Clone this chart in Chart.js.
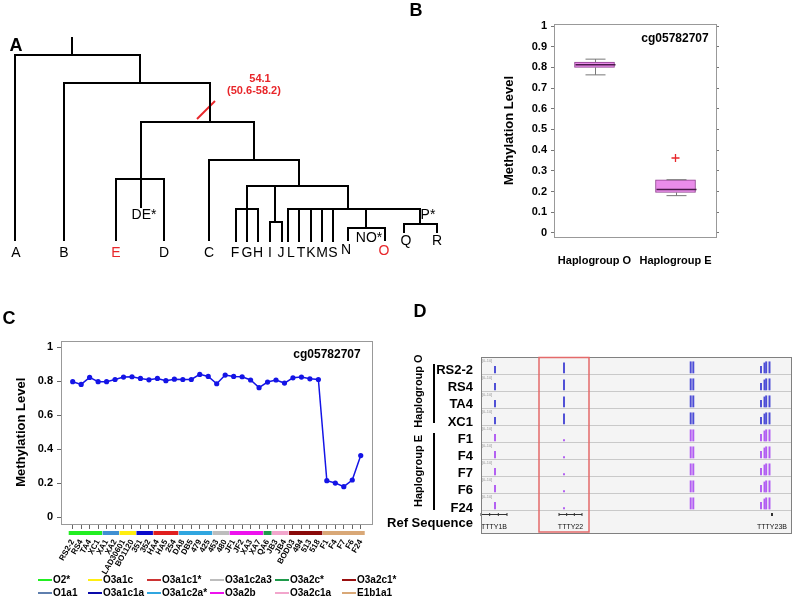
<!DOCTYPE html>
<html><head><meta charset="utf-8">
<script src="https://cdn.jsdelivr.net/npm/chart.js@4.4.1/dist/chart.umd.min.js"></script>
<style>
body{margin:0;width:796px;height:606px;background:#fff;position:relative;overflow:hidden;font-family:Arial,'Liberation Sans',sans-serif}
canvas{position:absolute}
.t{position:absolute;white-space:nowrap;line-height:1;color:#000}
.ln{position:absolute}
</style></head><body>
<canvas id="cA" width="450" height="270" style="left:0;top:0"></canvas>
<canvas id="cB" width="346" height="290" style="left:450px;top:0"></canvas>
<canvas id="cC" width="400" height="276" style="left:0;top:330px"></canvas>
<canvas id="cD" width="318" height="190" style="left:478px;top:350px"></canvas>
<script>
// ---------------- DATA ----------------
// Panel C: methylation of cg05782707 per sample
const sampleLabels = ['RS2-2','RS4','TA4','XC1','XA1','XA2','LAD30601','BO1120','351','352','HA4','HA5','254','DA8','DB5','479','425','453','480','JF1','JF2','XA3','XA7','QA6','JB3','JB4','BOD03','494','513','518','F1','F4','F7','F6','F24'];
const methylation = [0.798,0.782,0.823,0.798,0.798,0.811,0.825,0.827,0.817,0.809,0.817,0.804,0.813,0.811,0.811,0.841,0.829,0.786,0.837,0.829,0.827,0.808,0.763,0.796,0.808,0.790,0.821,0.825,0.815,0.811,0.215,0.201,0.180,0.219,0.363];
const cTicks = [0,0.2,0.4,0.6,0.8,1];
// haplogroup of sample ranges
const groupNames  = ['O2*','O1a1','O3a1c','O3a1c1a','O3a1c1*','O3a1c2a*','O3a1c2a3','O3a2b','O3a2c*','O3a2c1a','O3a2c1*','E1b1a1'];
const groupColors = ['#22ee22','#3f8fd2','#ffee11','#0a0acc','#e01f1f','#30a6e0','#bdbdbd','#ee11ee','#1e9a4a','#f2a6cc','#8a0a0a','#d9a877'];
const groupStart  = [0,4,6,8,10,13,17,19,23,24,26,30];
const groupEnd    = [3,5,7,9,12,16,18,22,23,25,29,34];
const legendRow1 = ['O2*','O3a1c','O3a1c1*','O3a1c2a3','O3a2c*','O3a2c1*'];
const legendRow2 = ['O1a1','O3a1c1a','O3a1c2a*','O3a2b','O3a2c1a','E1b1a1'];
const legendColor = {'O2*':'#22ee22','O1a1':'#5f7fae','O3a1c':'#ffee11','O3a1c1a':'#0a0aaa','O3a1c1*':'#cc3333','O3a1c2a*':'#30a6e0','O3a1c2a3':'#bdbdbd','O3a2b':'#ee11ee','O3a2c*':'#1e9a4a','O3a2c1a':'#f2a6cc','O3a2c1*':'#9a1010','E1b1a1':'#d9a877'};

// Panel B: box plot
const boxCats = ['Haplogroup O','Haplogroup E'];
const boxMin = [0.764,0.180];
const boxQ1  = [0.800,0.195];
const boxMed = [0.813,0.210];
const boxQ3  = [0.826,0.257];
const boxMax = [0.840,0.257];
const boxOutliers = [[],[0.362]];
const bTicks = [0,0.1,0.2,0.3,0.4,0.5,0.6,0.7,0.8,0.9,1];

// Panel D: genome browser tracks
const trackNames = ['RS2-2','RS4','TA4','XC1','F1','F4','F7','F6','F24'];
const trackGroup = ['O','O','O','O','E','E','E','E','E'];
const peakPos = [14,83,209.7,212.3,280,283.5,285.2,288.5];
const signalO = [6,9,10,10,6,9,10,10];
const signalE = [6,1.2,10,10,6,9,10,10];
const geneNames = ['TTTY1B','TTTY22','TTTY23B'];
const geneStart = [0,78,290.5];
const geneEnd   = [26,101,291.5];
const highlightRegion = [58,108];

// Panel A: tree
const treeEdges = [
 [72,38,72,55],[15,55,140,55],[15,55,15,240],[140,55,140,83],[64,83,210,83],[64,83,64,240],
 [210,83,210,122],[141,122,254,122],[141,122,141,207],[116,179,164,179],[116,179,116,240],[164,179,164,240],
 [254,122,254,160],[209,160,299,160],[209,160,209,240],[299,160,299,186],[247,186,348,186],
 [247,186,247,241],[236,209,258,209],[236,209,236,241],[258,209,258,241],
 [275,186,275,222],[270,222,282,222],[270,222,270,241],[282,222,282,241],
 [348,186,348,209],[288,209,420,209],[288,209,288,241],[299,209,299,241],[311,209,311,241],[322,209,322,241],[333,209,333,241],
 [366,209,366,228],[348,228,385,228],[348,228,348,240],[385,228,385,240],
 [420,209,420,224],[404,224,437,224],[404,224,404,232],[437,224,437,232]
];
const treeLabels = ['A','B','E','D','C','F','G','H','I','J','L','T','K','M','S','N','O','Q','R','DE*','NO*','P*'];
const treeLabelX = [16,64,116,164,209,235,247,258,270,281,291,301,311,322,333,346,384,406,437,144,369,428];
const treeLabelY = [253,253,253,253,253,253,253,253,253,253,253,253,253,253,253,250,251,241,241,215,238,215];
const treeRed = ['E','O'];
const ageLine = [[197,119],[215,101]];

// ---------------- HELPERS ----------------
Chart.defaults.font.family = "Arial, 'Liberation Sans', sans-serif";
Chart.defaults.color = '#000';
Chart.defaults.animation = false;
const FF = "Arial, 'Liberation Sans', sans-serif";
function txt(s,x,y,o={}){
  const d=document.createElement('div');d.className='t';d.textContent=s;
  d.style.left=x+'px';d.style.top=y+'px';d.style.fontSize=(o.size||12)+'px';
  d.style.fontWeight=o.weight||'bold';d.style.color=o.color||'#000';
  let tr=o.align==='right'?'translate(-100%,-50%)':o.align==='left'?'translate(0,-50%)':'translate(-50%,-50%)';
  if(o.rot) tr+=' rotate('+o.rot+'deg)';
  d.style.transform=tr;document.body.appendChild(d);
}
function box(x,y,w,h,c){const d=document.createElement('div');d.className='ln';d.style.left=x+'px';d.style.top=y+'px';d.style.width=w+'px';d.style.height=h+'px';d.style.background=c;document.body.appendChild(d);}
const framePlugin = {id:'frame',afterDraw(c,a,o){const ca=c.chartArea,x=c.ctx;x.save();x.strokeStyle=o.color||'#999';x.lineWidth=1;x.strokeRect(Math.round(ca.left)+0.5,Math.round(ca.top)+0.5,Math.round(ca.right-ca.left),Math.round(ca.bottom-ca.top));x.restore();}};

// ---------------- PANEL A ----------------
new Chart(document.getElementById('cA'),{
  type:'scatter',
  data:{datasets:[
    ...treeEdges.map(e=>({data:[{x:e[0],y:e[1]},{x:e[2],y:e[3]}],showLine:true,borderColor:'#000',borderWidth:2,pointRadius:0,borderCapStyle:'square'})),
    {data:ageLine.map(p=>({x:p[0],y:p[1]})),showLine:true,borderColor:'#e8262a',borderWidth:2,pointRadius:0}
  ]},
  options:{responsive:false,devicePixelRatio:1,layout:{padding:0},
    scales:{x:{type:'linear',min:0,max:450,display:false},y:{type:'linear',min:0,max:270,reverse:true,display:false}},
    plugins:{legend:{display:false},tooltip:{enabled:false}}},
  plugins:[{id:'treeText',afterDraw(c){const x=c.ctx,xs=c.scales.x,ys=c.scales.y;x.save();x.textAlign='center';x.textBaseline='middle';
    treeLabels.forEach((l,i)=>{x.font='14px '+FF;x.fillStyle=treeRed.includes(l)?'#e8262a':'#000';x.fillText(l,xs.getPixelForValue(treeLabelX[i]),ys.getPixelForValue(treeLabelY[i]));});
    x.restore();}}]
});
txt('A',16,45,{size:18});
txt('54.1',260,78,{size:11,color:'#e8262a'});
txt('(50.6-58.2)',254,90,{size:11,color:'#e8262a'});

// ---------------- PANEL B ----------------
new Chart(document.getElementById('cB'),{
  type:'bar',
  data:{datasets:[
    {type:'bar',data:boxCats.map((c,i)=>({x:2*i+1,y:[boxQ1[i],boxQ3[i]]})),backgroundColor:'#ea8cea',borderColor:'#8e3f8e',borderWidth:1,borderSkipped:false,barThickness:40,grouped:false},
    {type:'scatter',data:boxOutliers.flatMap((a,i)=>a.map(v=>({x:2*i+1,y:v}))),pointStyle:'cross',pointRadius:4,borderColor:'#e8262a',borderWidth:1.3}
  ]},
  options:{responsive:false,devicePixelRatio:1,layout:{padding:{left:48,top:24,right:74,bottom:0}},
    scales:{
      x:{type:'linear',min:0,max:4,offset:false,grid:{display:false},border:{display:false},
        afterBuildTicks(a){a.ticks=boxCats.map((c,i)=>({value:2*i+1}));},
        afterFit(s){s.height=53;},
        ticks:{padding:9,maxRotation:0,font:{size:11,weight:'bold'},callback:v=>boxCats[Math.round((v-1)/2)]}},
      y:{type:'linear',min:-0.02,max:1.01,
        afterBuildTicks(a){a.ticks=bTicks.map(v=>({value:v}));},
        afterFit(s){s.width=56;},
        grid:{drawOnChartArea:false,tickLength:3,color:'#777'},border:{display:false},
        title:{display:true,text:'Methylation Level',font:{size:13,weight:'bold'},padding:{top:4,bottom:0}},
        ticks:{padding:4,font:{size:11,weight:'bold'},callback:v=>v===0?'0':v===1?'1':v.toFixed(1)}},
      yr:{type:'linear',position:'right',min:-0.02,max:1.01,
        afterBuildTicks(a){a.ticks=bTicks.map(v=>({value:v}));},
        afterFit(s){s.width=6;},
        grid:{drawOnChartArea:false,tickLength:3,color:'#777'},border:{display:false},ticks:{display:false}}
    },
    plugins:{legend:{display:false},tooltip:{enabled:false},frame:{color:'#999'}}},
  plugins:[framePlugin,{id:'whisk',afterDatasetsDraw(c){const x=c.ctx,xs=c.scales.x,ys=c.scales.y;x.save();
    boxCats.forEach((cat,i)=>{const px=Math.round(xs.getPixelForValue(2*i+1))+0.5;
      x.strokeStyle='#777';x.lineWidth=1;x.beginPath();
      x.moveTo(px,ys.getPixelForValue(boxQ1[i]));x.lineTo(px,ys.getPixelForValue(boxMin[i]));
      x.moveTo(px,ys.getPixelForValue(boxQ3[i]));x.lineTo(px,ys.getPixelForValue(boxMax[i]));
      x.moveTo(px-10,ys.getPixelForValue(boxMin[i]));x.lineTo(px+10,ys.getPixelForValue(boxMin[i]));
      x.moveTo(px-10,ys.getPixelForValue(boxMax[i]));x.lineTo(px+10,ys.getPixelForValue(boxMax[i]));x.stroke();
      x.strokeStyle='#4a184a';x.lineWidth=1.5;x.beginPath();x.moveTo(px-20,ys.getPixelForValue(boxMed[i]));x.lineTo(px+20,ys.getPixelForValue(boxMed[i]));x.stroke();
    });x.restore();}}]
});
txt('B',416,10,{size:18});
txt('cg05782707',675,38,{size:12});

// ---------------- PANEL C ----------------
new Chart(document.getElementById('cC'),{
  type:'line',
  data:{datasets:[{data:methylation.map((v,i)=>({x:i,y:v})),borderColor:'#1414e6',backgroundColor:'#1414e6',borderWidth:1.5,pointRadius:2.6,pointBorderWidth:0,tension:0}]},
  options:{responsive:false,devicePixelRatio:1,layout:{padding:{left:10,top:9,right:28,bottom:0}},
    scales:{
      x:{type:'linear',min:-1.38,max:35.33,offset:false,
        afterBuildTicks(a){a.ticks=sampleLabels.map((s,i)=>({value:i}));},
        afterFit(s){s.height=82;},
        grid:{drawOnChartArea:false,tickLength:5,color:'#666'},border:{display:false},
        ticks:{autoSkip:false,minRotation:60,maxRotation:60,padding:9,font:{size:8,weight:'bold'},callback:v=>sampleLabels[v]}},
      y:{type:'linear',min:-0.04,max:1.04,
        afterBuildTicks(a){a.ticks=cTicks.map(v=>({value:v}));},
        afterFit(s){s.width=51;},
        grid:{drawOnChartArea:false,tickLength:4,color:'#666'},border:{display:false},
        title:{display:true,text:'Methylation Level',font:{size:13,weight:'bold'},padding:{top:4,bottom:0}},
        ticks:{padding:4,font:{size:11,weight:'bold'},callback:v=>v===0?'0':v===1?'1':v.toFixed(1)}}
    },
    plugins:{legend:{display:false},tooltip:{enabled:false},frame:{color:'#999'}}},
  plugins:[framePlugin,{id:'groupBars',afterDraw(c){const x=c.ctx,xs=c.scales.x,b=c.chartArea.bottom;x.save();
    groupNames.forEach((g,i)=>{const a=xs.getPixelForValue(groupStart[i]-0.47),e=xs.getPixelForValue(groupEnd[i]+0.47);x.fillStyle=groupColors[i];x.fillRect(a,b+7,e-a,4);});
    x.restore();}}]
});
txt('C',9,318,{size:18});
txt('cg05782707',327,354,{size:12});
const legCols=[38,88,147,210,275,342];
[legendRow1,legendRow2].forEach((row,r)=>{row.forEach((n,i)=>{const y=r===0?580:593;box(legCols[i],y-1,14,2,legendColor[n]);txt(n,legCols[i]+15,y,{size:10,align:'left'});});});

// ---------------- PANEL D ----------------
const nT = trackNames.length;
const mkBars = grp => trackNames.flatMap((t,r)=>trackGroup[r]!==grp?[]:peakPos.map((p,k)=>{const s=(grp==='O'?signalO:signalE)[k];return {x:p,y:[r+0.94-s*0.066,r+0.94]};}));
new Chart(document.getElementById('cD'),{
  type:'bar',
  data:{datasets:[
    {data:mkBars('O'),backgroundColor:'#4d4dd6',barThickness:1.3,grouped:false,borderWidth:0},
    {data:mkBars('E'),backgroundColor:'#b25ef2',barThickness:1.3,grouped:false,borderWidth:0}
  ]},
  options:{responsive:false,devicePixelRatio:1,layout:{padding:{left:3,top:7,right:5,bottom:7}},
    scales:{x:{type:'linear',min:0,max:310,offset:false,display:false},y:{type:'linear',min:0,max:10.35,reverse:true,display:false}},
    plugins:{legend:{display:false},tooltip:{enabled:false}}},
  plugins:[{id:'tracks',beforeDatasetsDraw(c){const x=c.ctx,xs=c.scales.x,ys=c.scales.y,ca=c.chartArea;x.save();
      x.fillStyle='#f4f4f4';x.fillRect(ca.left,ca.top,ca.right-ca.left,ca.bottom-ca.top);
      x.strokeStyle='#c9c9c9';x.lineWidth=1;
      for(let r=1;r<=nT;r++){const y=Math.round(ys.getPixelForValue(r))+0.5;x.beginPath();x.moveTo(ca.left,y);x.lineTo(ca.right,y);x.stroke();}
      x.fillStyle='#999';x.font='4px '+FF;x.textBaseline='top';
      for(let r=0;r<nT;r++){x.fillText('[0-10]',xs.getPixelForValue(1),ys.getPixelForValue(r)+2);}
      x.strokeStyle='#333';x.fillStyle='#111';x.lineWidth=1;x.font='7px '+FF;x.textAlign='center';x.textBaseline='middle';
      geneNames.forEach((g,i)=>{const a=xs.getPixelForValue(geneStart[i]),e=xs.getPixelForValue(geneEnd[i]),y=Math.round(ys.getPixelForValue(9.24))+0.5;
        x.beginPath();x.moveTo(a,y);x.lineTo(e,y);
        const n=Math.max(1,Math.round((e-a)/8));for(let k=0;k<=n;k++){const px=a+(e-a)*k/n;x.moveTo(px,y-1.5);x.lineTo(px,y+1.5);}
        x.stroke();x.fillText(g,(a+e)/2,ys.getPixelForValue(10.0));});
      x.restore();},
    afterDraw(c){const x=c.ctx,xs=c.scales.x,ca=c.chartArea;x.save();
      x.strokeStyle='#808080';x.lineWidth=1;x.strokeRect(Math.round(ca.left)+0.5,Math.round(ca.top)+0.5,Math.round(ca.right-ca.left),Math.round(ca.bottom-ca.top));
      const a=xs.getPixelForValue(highlightRegion[0]),e=xs.getPixelForValue(highlightRegion[1]);
      x.strokeStyle='#e46a6a';x.lineWidth=1.5;x.strokeRect(a,ca.top+0.5,e-a,ca.bottom-ca.top-1.5);x.restore();}}]
});
txt('D',420,311,{size:18});
trackNames.forEach((t,r)=>txt(t,473,369+17.2*r,{size:13,align:'right'}));
txt('Ref Sequence',473,522,{size:13,align:'right'});
box(433,364,2,59,'#000');
box(433,433,2,77,'#000');
txt('Haplogroup O',418,391,{size:11,rot:-90});
txt('Haplogroup E',418,471,{size:11,rot:-90});
</script>
</body></html>
